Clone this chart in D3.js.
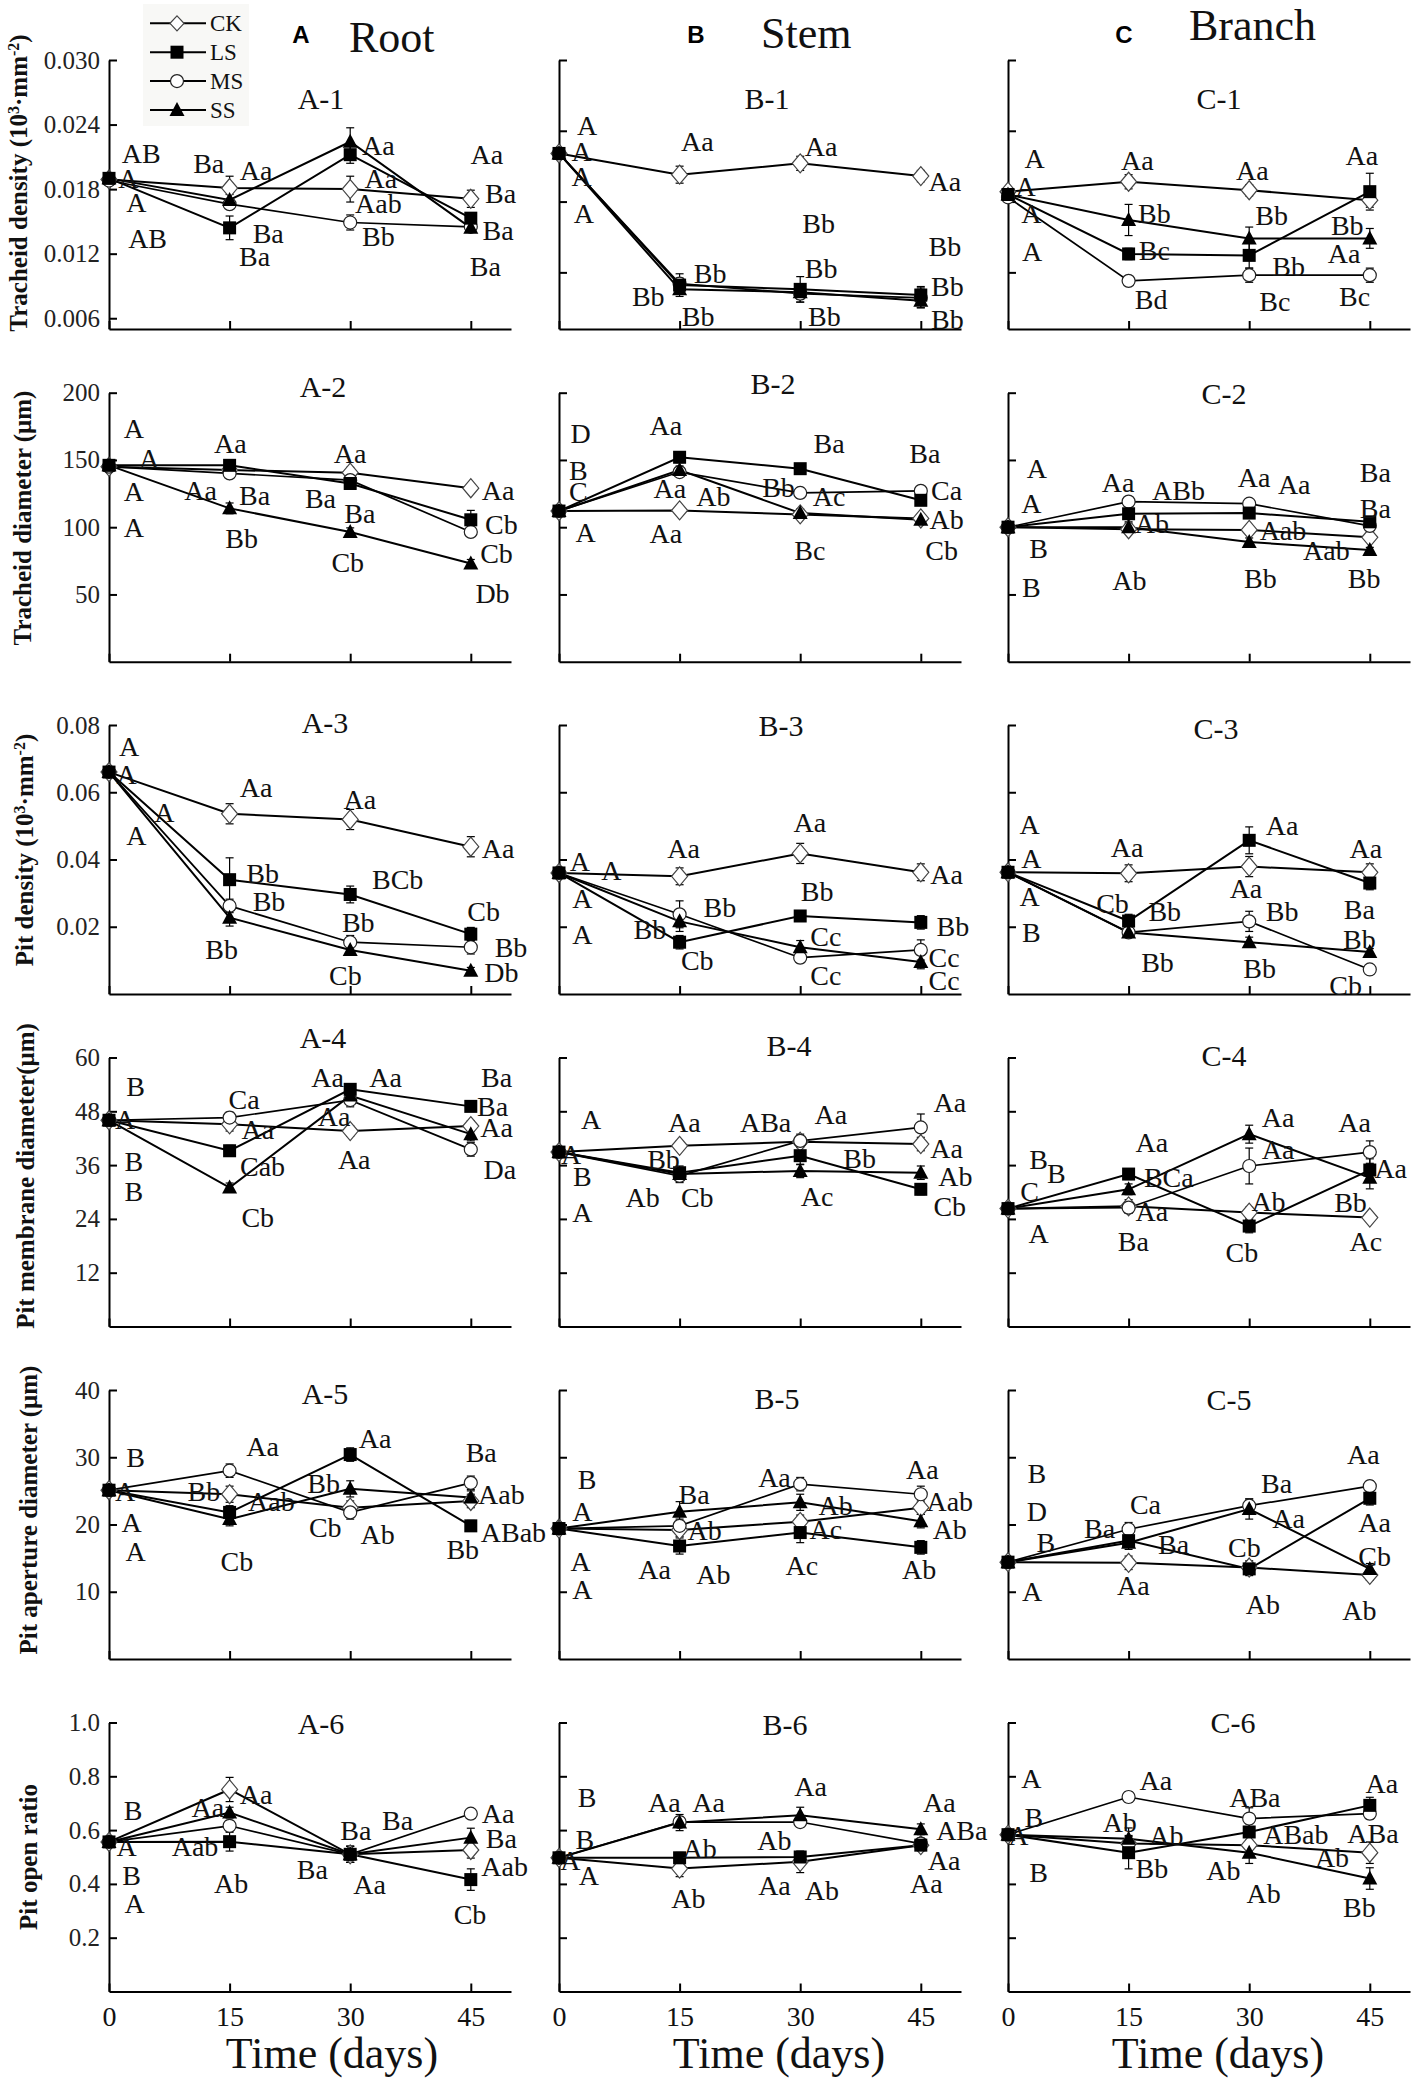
<!DOCTYPE html>
<html><head><meta charset="utf-8">
<script src="https://cdn.jsdelivr.net/npm/d3@7"></script>
<style>body{margin:0;background:#fff} svg{display:block}</style>
</head><body>
<svg id="chart" width="1417" height="2098"></svg>
<script>
// ---------------- DATA ----------------
const days = [0, 15, 30, 45];
const seriesNames = ["CK", "LS", "MS", "SS"];
const xTickLabels = [0, 15, 30, 45];
const colHeads = [["A", "Root"], ["B", "Stem"], ["C", "Branch"]];

const yDomainsByRow = [[0.005, 0.030], [0, 200], [0, 0.08], [0, 60], [0, 40], [0, 1]];
const yTicksByRow = [
  [0.006, 0.012, 0.018, 0.024, 0.030],
  [50, 100, 150, 200],
  [0.02, 0.04, 0.06, 0.08],
  [12, 24, 36, 48, 60],
  [10, 20, 30, 40],
  [0.2, 0.4, 0.6, 0.8, 1.0]
];
const yFormatsByRow = [".3f", "d", ".2f", "d", "d", ".1f"];
// Stem and branch tracheid-density panels have their own axis
const yDomainBC1 = [0.006, 0.025];
const yTicksBC1 = [0.010, 0.015, 0.020, 0.025];

const yLabels = [
  [["Tracheid density (10", 0], ["3", 1], ["·mm", 0], ["-2", 1], [")", 0]],
  [["Tracheid diameter (μm)", 0]],
  [["Pit density (10", 0], ["3", 1], ["·mm", 0], ["-2", 1], [")", 0]],
  [["Pit membrane diameter(μm)", 0]],
  [["Pit aperture diameter (μm)", 0]],
  [["Pit open ratio", 0]]
];

// Row 1: tracheid density
const A1 = {CK:[0.0189,0.0181,0.0180,0.0171], LS:[0.0190,0.0144,0.0212,0.0153], MS:[0.0188,0.0166,0.0149,0.0145], SS:[0.0190,0.0170,0.0224,0.0144]};
const A1_err = {CK:[0,0.0011,0.0012,0.0008], LS:[0,0.0011,0.0008,0.0005], MS:[0,0.0004,0.0007,0.0003], SS:[0,0.0005,0.0013,0.0004]};
const A1_lab = [["AB",4.0,0.0213],["A",2.4,0.0190],["A",3.4,0.0168],["AB",4.8,0.01345],["Ba",12.4,0.0204],["Aa",18.3,0.0198],["Ba",19.8,0.0139],["Ba",18.1,0.01175],["Aa",33.5,0.0221],["Aa",33.8,0.0190],["Aab",33.5,0.0167],["Bb",33.5,0.0136],["Aa",47.0,0.0212],["Ba",48.7,0.0176],["Ba",48.4,0.0142],["Ba",46.8,0.0108]];

const B1 = {CK:[0.0184,0.0169,0.0177,0.0168], LS:[0.0184,0.0091,0.0088,0.0084], MS:[0.0184,0.0092,0.0085,0.0082], SS:[0.0184,0.0088,0.0086,0.0080]};
const B1_err = {CK:[0,0.0006,0.0005,0.0004], LS:[0,0.0005,0.0009,0.0006], MS:[0,0.0007,0.0006,0.0007], SS:[0,0.0005,0.0005,0.0005]};
const B1_lab = [["A",3.5,0.0204],["A",2.8,0.01853],["A",2.8,0.01677],["A",3.1,0.01418],["Aa",17.2,0.01924],["Aa",32.6,0.01889],["Aa",48.0,0.01642],["Bb",32.3,0.01348],["Bb",48.0,0.01183],["Bb",18.8,0.00995],["Bb",11.1,0.0083],["Bb",17.3,0.00689],["Bb",32.6,0.0103],["Bb",33.0,0.00689],["Bb",48.3,0.0090],["Bb",48.3,0.00666]];

const C1 = {CK:[0.0157,0.0164,0.0158,0.0151], LS:[0.0155,0.0113,0.0112,0.0157], MS:[0.0153,0.0094,0.0098,0.0098], SS:[0.0155,0.0137,0.0124,0.0124]};
const C1_err = {CK:[0,0.0005,0.0004,0.0005], LS:[0,0.0004,0.0009,0.0013], MS:[0,0.0003,0.0005,0.0005], SS:[0,0.0011,0.0008,0.0007]};
const C1_lab = [["A",3.3,0.01806],["A",2.2,0.01606],["A",2.9,0.01418],["A",3.0,0.01148],["Aa",16.1,0.01795],["Bb",18.2,0.01418],["Bc",18.2,0.0116],["Bd",17.8,0.00807],["Aa",30.4,0.01724],["Bb",32.8,0.01407],["Bb",34.9,0.01042],["Bc",33.2,0.00795],["Aa",44.0,0.0183],["Bb",42.2,0.01336],["Aa",41.8,0.01136],["Bc",43.1,0.0083]];

// Row 2: tracheid diameter
const A2 = {CK:[145,142.5,140.5,129], LS:[146,146,132.5,105.5], MS:[145,140,135,96.5], SS:[146,114,96.5,73]};
const A2_err = {CK:[0,3,4,3], LS:[0,3,3,7], MS:[0,3,4,3], SS:[0,4,3,3]};
const A2_lab = [["A",3.1,173.5],["A",5.0,151.2],["A",3.1,126.4],["A",3.1,100.3],["Aa",15.1,162.3],["Aa",11.4,127.6],["Ba",18.1,123.9],["Bb",16.5,91.7],["Aa",30.0,154.9],["Ba",26.3,121.4],["Ba",31.2,110.3],["Cb",29.7,74.3],["Aa",48.4,127.6],["Cb",48.8,102.3],["Cb",48.2,80.5],["Db",47.7,50.8]];

const B2 = {CK:[112,112.5,109.5,106.5], LS:[112,152,143.5,120], MS:[112,141,125.5,127], SS:[112,142.5,110.5,105.5]};
const B2_err = {CK:[0,3,3,2], LS:[0,4,3,3], MS:[0,3,4,3], SS:[0,3,3,3]};
const B2_lab = [["D",2.7,169.8],["B",2.4,142.5],["C",2.4,126.4],["A",3.3,96.6],["Aa",13.3,176],["Aa",13.8,128.9],["Ab",19.2,122.7],["Aa",13.3,95.4],["Ba",33.6,162.3],["Bb",27.3,130.1],["Ac",33.6,122.7],["Bc",31.2,83.0],["Ba",45.5,154.9],["Ca",48.2,127.6],["Ab",48.2,105.8],["Cb",47.6,83.0]];

const C2 = {CK:[100,98.5,98,92.5], LS:[100,110,110.5,104], MS:[100,119,117.5,101], SS:[100,100,89,83]};
const C2_err = {CK:[0,2,3,3], LS:[0,6,3,3], MS:[0,3,3,3], SS:[0,3,3,2]};
const C2_lab = [["A",3.6,143.7],["A",2.9,117.7],["B",3.8,84.2],["B",2.9,55.7],["Aa",13.7,133.8],["ABb",21.2,127.6],["Ab",17.9,102.8],["Ab",15.1,60.7],["Aa",30.6,137.5],["Aa",35.6,132.1],["Aab",34.2,97.4],["Bb",31.4,61.9],["Ba",45.7,141.2],["Ba",45.7,114],["Aab",39.6,83.0],["Bb",44.3,61.9]];

// Row 3: pit density
const A3 = {CK:[0.066,0.0536,0.0519,0.0438], LS:[0.066,0.034,0.0296,0.0178], MS:[0.066,0.0262,0.0154,0.0139], SS:[0.066,0.0227,0.0131,0.0069]};
const A3_err = {CK:[0,0.003,0.003,0.003], LS:[0,0.0065,0.0025,0.002], MS:[0,0.002,0.002,0.002], SS:[0,0.0025,0.0015,0.001]};
const A3_lab = [["A",2.5,0.0736],["A",2.2,0.0653],["A",6.9,0.0541],["A",3.4,0.0472],["Aa",18.3,0.0614],["Bb",19.1,0.0359],["Bb",19.9,0.0276],["Bb",14.0,0.0134],["Aa",31.2,0.058],["BCb",35.9,0.034],["Bb",31.0,0.0213],["Cb",29.4,0.0056],["Aa",48.4,0.0433],["Cb",46.6,0.0247],["Bb",50.0,0.0139],["Db",48.8,0.0066]];

const B3 = {CK:[0.036,0.035,0.0418,0.0362], LS:[0.036,0.0154,0.0232,0.0213], MS:[0.036,0.0237,0.0108,0.0131], SS:[0.036,0.0216,0.0139,0.0095]};
const B3_err = {CK:[0,0.0025,0.003,0.0025], LS:[0,0.002,0.0015,0.002], MS:[0,0.004,0.0015,0.003], SS:[0,0.003,0.002,0.002]};
const B3_lab = [["A",2.6,0.0394],["A",6.5,0.0369],["A",2.9,0.0286],["A",2.9,0.0178],["Aa",15.5,0.0433],["Bb",20.0,0.0257],["Bb",11.3,0.0193],["Cb",17.2,0.0100],["Aa",31.2,0.0511],["Bb",32.1,0.0306],["Cc",33.2,0.0173],["Cc",33.2,0.0056],["Aa",48.2,0.0356],["Bb",49.0,0.0203],["Cc",47.9,0.0110],["Cc",47.9,0.0041]];

const C3 = {CK:[0.0362,0.0359,0.0379,0.0362], LS:[0.0362,0.0217,0.0457,0.033], MS:[0.0362,0.0183,0.0216,0.0073], SS:[0.0362,0.0183,0.0154,0.0125]};
const C3_err = {CK:[0,0.0025,0.003,0.0025], LS:[0,0.002,0.004,0.002], MS:[0,0.001,0.003,0.001], SS:[0,0.001,0.0015,0.001]};
const C3_lab = [["A",2.7,0.0506],["A",2.9,0.0404],["A",2.7,0.0291],["B",2.9,0.0183],["Aa",14.8,0.0438],["Cb",13.0,0.0271],["Bb",19.5,0.0247],["Bb",18.6,0.0095],["Aa",34.1,0.0501],["Aa",29.6,0.0315],["Bb",34.1,0.0247],["Bb",31.3,0.0076],["Aa",44.5,0.0433],["Ba",43.7,0.0252],["Bb",43.7,0.0164],["Cb",42.0,0.0027]];

// Row 4: pit membrane diameter
const A4 = {CK:[46,45.1,43.6,44.7], LS:[46,39.2,52.9,49.1], MS:[46,46.6,50.5,39.5], SS:[46,31,51.5,42.9]};
const A4_err = {CK:[0,1.5,1.2,1.2], LS:[0,1.2,1.0,1.0], MS:[0,1.2,1.5,1.5], SS:[0,1.0,1.0,1.5]};
const A4_lab = [["B",3.3,53.7],["A",2.0,46.2],["B",3.1,36.9],["B",3.1,30.2],["Ca",16.8,50.7],["Aa",18.5,44.0],["Cab",19.1,35.8],["Cb",18.5,24.3],["Aa",27.2,55.5],["Aa",34.4,55.5],["Aa",28.0,47.0],["Aa",30.5,37.3],["Ba",48.2,55.5],["Ba",47.7,49.2],["Aa",48.2,44.4],["Da",48.6,35.1]];

const B4 = {CK:[38.9,40.3,41.2,40.7], LS:[38.9,34.3,38.1,30.6], MS:[38.9,33.6,41.4,44.4], SS:[38.9,34,34.7,34.3]};
const B4_err = {CK:[0,1,1,1.5], LS:[0,1.5,2,1.2], MS:[0,1.5,1.5,3], SS:[0,1.2,1.5,1.5]};
const B4_lab = [["A",4.0,46.2],["A",1.5,38.4],["B",2.9,33.6],["A",2.9,25.4],["Aa",15.6,45.6],["Bb",13.0,37.3],["Ab",10.4,28.8],["Cb",17.2,28.8],["ABa",25.7,45.5],["Aa",33.8,47.4],["Ac",32.1,29.1],["Bb",37.4,37.5],["Aa",48.6,50.1],["Aa",48.2,39.7],["Ab",49.3,33.6],["Cb",48.6,26.9]];

const C4 = {CK:[26.3,26.8,25.4,24.3], LS:[26.3,34,22.4,34.9], MS:[26.3,26.5,35.8,38.9], SS:[26.3,30.6,42.9,33.2]};
const C4_err = {CK:[0,1.5,1.2,0.8], LS:[0,1.2,1.5,2.5], MS:[0,1.2,4,2.5], SS:[0,1.2,2,2.5]};
const C4_lab = [["B",3.8,37.3],["B",6.0,34.3],["C",2.7,30.2],["A",3.8,20.9],["Aa",17.9,41.0],["BCa",20.0,33.2],["Aa",17.9,25.8],["Ba",15.6,19.1],["Aa",33.6,46.6],["Aa",33.6,39.5],["Ab",32.4,28.0],["Cb",29.1,16.5],["Aa",43.1,45.5],["Aa",47.6,35.2],["Bb",42.6,27.8],["Ac",44.5,19.1]];

// Row 5: pit aperture diameter
const A5 = {CK:[25.1,24.5,22.5,23.5], LS:[25.1,21.8,30.4,19.8], MS:[25.1,28.0,21.8,26.2], SS:[25.1,20.8,25.3,24.0]};
const A5_err = {CK:[0,1.2,1,1], LS:[0,1,1,0.8], MS:[0,1,1,1], SS:[0,1,1.2,1]};
const A5_lab = [["B",3.3,30.0],["A",2.0,25.0],["A",2.8,20.3],["A",3.3,16.1],["Aa",19.1,31.7],["Bb",11.8,25.0],["Aab",20.2,23.5],["Cb",15.9,14.6],["Aa",33.1,32.9],["Bb",26.7,26.2],["Cb",26.9,19.6],["Ab",33.4,18.6],["Ba",46.3,30.7],["Aab",48.8,24.5],["ABab",50.3,18.9],["Bb",44.0,16.3]];

const B5 = {CK:[19.4,19.2,20.4,22.5], LS:[19.4,16.8,18.8,16.6], MS:[19.4,19.8,26.0,24.5], SS:[19.4,21.9,23.3,20.5]};
const B5_err = {CK:[0,1,1,1], LS:[0,1.2,1.5,1], MS:[0,1,1,1.2], SS:[0,1.5,1.2,1]};
const B5_lab = [["B",3.5,26.7],["A",2.9,22.0],["A",2.7,14.6],["A",2.9,10.4],["Ba",16.8,24.5],["Ab",18.1,19.1],["Aa",11.9,13.4],["Ab",19.2,12.6],["Aa",26.8,27.0],["Ab",34.4,22.8],["Ac",33.2,19.3],["Ac",30.2,13.9],["Aa",45.2,28.2],["Aab",48.6,23.5],["Ab",48.6,19.3],["Ab",44.8,13.4]];

const C5 = {CK:[14.4,14.3,13.6,12.5], LS:[14.4,17.6,13.4,23.9], MS:[14.4,19.3,22.8,25.7], SS:[14.4,17.3,22.3,13.4]};
const C5_err = {CK:[0,1,1,0.8], LS:[0,1,1,1], MS:[0,1,1,0.8], SS:[0,1,1.5,0.8]};
const C5_lab = [["B",3.6,27.7],["D",3.6,22.0],["B",4.7,17.3],["A",3.0,10.1],["Ba",11.4,19.4],["Ca",17.1,23.0],["Ba",20.6,17.1],["Aa",15.6,10.9],["Ba",33.4,26.2],["Aa",34.9,21.0],["Cb",29.4,16.6],["Ab",31.7,8.2],["Aa",44.2,30.4],["Aa",45.6,20.3],["Cb",45.6,15.3],["Ab",43.7,7.2]];

// Row 6: pit open ratio
const A6 = {CK:[0.556,0.751,0.51,0.526], LS:[0.556,0.557,0.51,0.416], MS:[0.556,0.616,0.51,0.661], SS:[0.556,0.665,0.51,0.572]};
const A6_err = {CK:[0,0.045,0.03,0.03], LS:[0,0.035,0.03,0.04], MS:[0,0.02,0.02,0.01], SS:[0,0.02,0.03,0.035]};
const A6_lab = [["B",3.0,0.674],["A",2.2,0.539],["B",2.8,0.434],["A",3.2,0.330],["Aa",18.3,0.735],["Aa",12.3,0.686],["Aab",10.7,0.539],["Ab",15.2,0.404],["Ba",30.7,0.600],["Ba",35.9,0.637],["Ba",25.3,0.456],["Aa",32.4,0.398],["Aa",48.4,0.661],["Ba",48.8,0.569],["Aab",49.2,0.465],["Cb",44.9,0.287]];

const B6 = {CK:[0.497,0.457,0.482,0.544], LS:[0.497,0.497,0.5,0.544], MS:[0.497,0.63,0.63,0.55], SS:[0.497,0.628,0.655,0.603]};
const B6_err = {CK:[0,0.03,0.04,0.02], LS:[0,0.02,0.02,0.02], MS:[0,0.02,0.02,0.02], SS:[0,0.03,0.03,0.02]};
const B6_lab = [["B",3.5,0.723],["B",3.2,0.568],["A",1.4,0.488],["A",3.7,0.432],["Aa",13.1,0.705],["Aa",18.6,0.705],["Ab",17.5,0.531],["Ab",16.1,0.348],["Aa",31.3,0.764],["Ab",26.8,0.562],["Aa",26.8,0.395],["Ab",32.7,0.376],["Aa",47.3,0.705],["ABa",50.1,0.600],["Aa",47.9,0.488],["Aa",45.7,0.401]];

const C6 = {CK:[0.583,0.55,0.544,0.516], LS:[0.583,0.516,0.593,0.692], MS:[0.583,0.723,0.643,0.661], SS:[0.583,0.568,0.516,0.42]};
const C6_err = {CK:[0,0.03,0.03,0.04], LS:[0,0.06,0.03,0.03], MS:[0,0.02,0.04,0.02], SS:[0,0.04,0.04,0.04]};
const C6_lab = [["A",2.9,0.792],["B",3.2,0.649],["A",1.3,0.581],["B",3.8,0.444],["Aa",18.4,0.785],["Ab",13.9,0.630],["Ab",19.7,0.581],["Bb",17.9,0.457],["ABa",30.7,0.723],["ABab",35.8,0.583],["Ab",26.8,0.451],["Ab",31.8,0.364],["Aa",46.5,0.773],["ABa",45.4,0.587],["Ab",40.3,0.500],["Bb",43.7,0.314]];

const panelData = [
  [A1, A1_err, A1_lab], [B1, B1_err, B1_lab], [C1, C1_err, C1_lab],
  [A2, A2_err, A2_lab], [B2, B2_err, B2_lab], [C2, C2_err, C2_lab],
  [A3, A3_err, A3_lab], [B3, B3_err, B3_lab], [C3, C3_err, C3_lab],
  [A4, A4_err, A4_lab], [B4, B4_err, B4_lab], [C4, C4_err, C4_lab],
  [A5, A5_err, A5_lab], [B5, B5_err, B5_lab], [C5, C5_err, C5_lab],
  [A6, A6_err, A6_lab], [B6, B6_err, B6_lab], [C6, C6_err, C6_lab]
];

// ---------------- LAYOUT ----------------
const W = 1417, H = 2098;
const colX0 = [109, 559, 1008];
const rowTop = [60, 392.7, 725, 1057.5, 1390, 1722.5];
const PW = 402, PH = 269;
// panel title [dx from axis, dy from top] (center)
const titlePos = [
  [212, 38], [208, 38], [211, 38],
  [214, -6], [214, -9], [216, 1],
  [216, -3], [222, 0], [208, 3],
  [214, -20], [230, -12], [216, -2],
  [216, 3], [218, 8], [221, 9],
  [212, 1], [226, 2], [225, 0]
];
const yLabelPos = [[27, 183], [31, 518], [33, 850], [34, 1176], [37, 1510], [37, 1857]];
const xTitlePos = [223, 220, 210];
const SERIF = "'Liberation Serif','Times New Roman',Times,serif";
const SANS = "'Liberation Sans',Arial,Helvetica,sans-serif";

const svg = d3.select("#chart").attr("viewBox", `0 0 ${W} ${H}`);
svg.append("rect").attr("width", W).attr("height", H).attr("fill", "#fff");

function markerShape(sel, name, big) {
  if (name === "CK") {
    const hw = big ? 8 : 7, hh = big ? 9.5 : 7.5;
    sel.append("path").attr("d", `M0,${-hh}L${hw},0L0,${hh}L${-hw},0Z`)
      .attr("fill", "#fff").attr("stroke", "#444").attr("stroke-width", 1.2);
  } else if (name === "LS") {
    sel.append("rect").attr("x", -6.5).attr("y", -6.5).attr("width", 13).attr("height", 13).attr("fill", "#000");
  } else if (name === "MS") {
    sel.append("circle").attr("r", 6.5).attr("fill", "#fff").attr("stroke", "#222").attr("stroke-width", 1.2);
  } else {
    sel.append("path").attr("d", "M0,-8L7.5,6L-7.5,6Z").attr("fill", "#000");
  }
}

panelData.forEach((pd, i) => {
  const [data, err, labs] = pd;
  const row = Math.floor(i / 3), col = i % 3;
  const x0 = colX0[col], top = rowTop[row];
  const dom = (row === 0 && col > 0) ? yDomainBC1 : yDomainsByRow[row];
  const ticks = (row === 0 && col > 0) ? yTicksBC1 : yTicksByRow[row];
  const x = d3.scaleLinear().domain([0, 50]).range([x0, x0 + PW]);
  const y = d3.scaleLinear().domain(dom).range([top + PH, top]);
  const g = svg.append("g");

  // y axis
  const ya = d3.axisLeft(y).tickValues(ticks).tickSizeInner(-8).tickSizeOuter(0).tickPadding(9)
    .tickFormat(col === 0 ? d3.format(yFormatsByRow[row]) : () => "");
  const yg = g.append("g").attr("transform", `translate(${x0},0)`).call(ya);
  yg.selectAll("path,line").attr("stroke", "#000").attr("stroke-width", 2);
  yg.selectAll("text").attr("font-family", SERIF).attr("font-size", 25).attr("fill", "#222");

  // x axis
  const xa = d3.axisBottom(x).tickValues(xTickLabels).tickSizeInner(-8).tickSizeOuter(0).tickPadding(15)
    .tickFormat(row === 5 ? d3.format("d") : () => "");
  const xg = g.append("g").attr("transform", `translate(0,${top + PH})`).call(xa);
  xg.selectAll("path,line").attr("stroke", "#000").attr("stroke-width", 2);
  xg.selectAll("text").attr("font-family", SERIF).attr("font-size", 28).attr("fill", "#111");

  // lines
  const line = d3.line().x((d, k) => x(days[k])).y(d => y(d));
  seriesNames.forEach(s => {
    g.append("path").attr("d", line(data[s])).attr("fill", "none")
      .attr("stroke", "#000").attr("stroke-width", s === "MS" ? 1.7 : 2);
  });
  // error bars
  seriesNames.forEach(s => {
    data[s].forEach((v, k) => {
      const e = err[s][k];
      if (!e) return;
      const cx = x(days[k]);
      const eg = g.append("g").attr("stroke", "#000").attr("stroke-width", 1.2);
      eg.append("line").attr("x1", cx).attr("x2", cx).attr("y1", y(v - e)).attr("y2", y(v + e));
      eg.append("line").attr("x1", cx - 4).attr("x2", cx + 4).attr("y1", y(v - e)).attr("y2", y(v - e));
      eg.append("line").attr("x1", cx - 4).attr("x2", cx + 4).attr("y1", y(v + e)).attr("y2", y(v + e));
    });
  });
  // markers
  ["CK", "MS", "LS", "SS"].forEach(s => {
    data[s].forEach((v, k) => {
      const mg = g.append("g").attr("transform", `translate(${x(days[k])},${y(v)})`);
      markerShape(mg, s, true);
    });
  });
  // letters
  g.selectAll("text.lab").data(labs).enter().append("text").attr("class", "lab")
    .attr("x", d => x(d[1])).attr("y", d => y(d[2])).attr("dy", "0.35em")
    .attr("text-anchor", "middle").attr("font-family", SERIF).attr("font-size", 28).attr("fill", "#111")
    .text(d => d[0]);
  // panel title
  const tp = titlePos[i];
  g.append("text").attr("x", x0 + tp[0]).attr("y", top + tp[1]).attr("dy", "0.35em")
    .attr("text-anchor", "middle").attr("font-family", SERIF).attr("font-size", 30).attr("fill", "#111")
    .text(["A", "B", "C"][col] + "-" + (row + 1));

  // x title
  if (row === 5) {
    g.append("text").attr("x", x0 + xTitlePos[col]).attr("y", 2068).attr("text-anchor", "middle")
      .attr("font-family", SERIF).attr("font-size", 44).attr("fill", "#111").text("Time (days)");
  }
});

// y-axis titles
yLabels.forEach((parts, r) => {
  const [bx, cy] = yLabelPos[r];
  const t = svg.append("text").attr("transform", `translate(${bx},${cy}) rotate(-90)`)
    .attr("text-anchor", "middle").attr("font-family", SERIF).attr("font-weight", "bold")
    .attr("font-size", 25).attr("fill", "#111");
  parts.forEach(p => {
    const ts = t.append("tspan").text(p[0]);
    if (p[1]) ts.attr("baseline-shift", "super").attr("font-size", 16);
  });
});

// column headers
const headPos = [[301, 43, 349, 52], [696, 43, 761, 48], [1124, 43, 1189, 40]];
colHeads.forEach((h, c) => {
  const p = headPos[c];
  svg.append("text").attr("x", p[0]).attr("y", p[1]).attr("text-anchor", "middle")
    .attr("font-family", SANS).attr("font-weight", "bold").attr("font-size", 24).attr("fill", "#000").text(h[0]);
  svg.append("text").attr("x", p[2]).attr("y", p[3]).attr("font-family", SERIF)
    .attr("font-size", 44).attr("fill", "#111").text(h[1]);
});

// legend
const leg = svg.append("g");
leg.append("rect").attr("x", 143).attr("y", 4).attr("width", 106).attr("height", 122).attr("fill", "#f8f8f6");
const legY = d3.scalePoint().domain(seriesNames).range([23.3, 110]);
seriesNames.forEach(s => {
  const yy = legY(s);
  leg.append("line").attr("x1", 150).attr("x2", 206).attr("y1", yy).attr("y2", yy).attr("stroke", "#000").attr("stroke-width", 2);
  const mg = leg.append("g").attr("transform", `translate(177,${yy})`);
  markerShape(mg, s, false);
  leg.append("text").attr("x", 210).attr("y", yy).attr("dy", "0.35em").attr("font-family", SERIF)
    .attr("font-size", 23).attr("fill", "#111").text(s);
});
</script>
</body></html>
